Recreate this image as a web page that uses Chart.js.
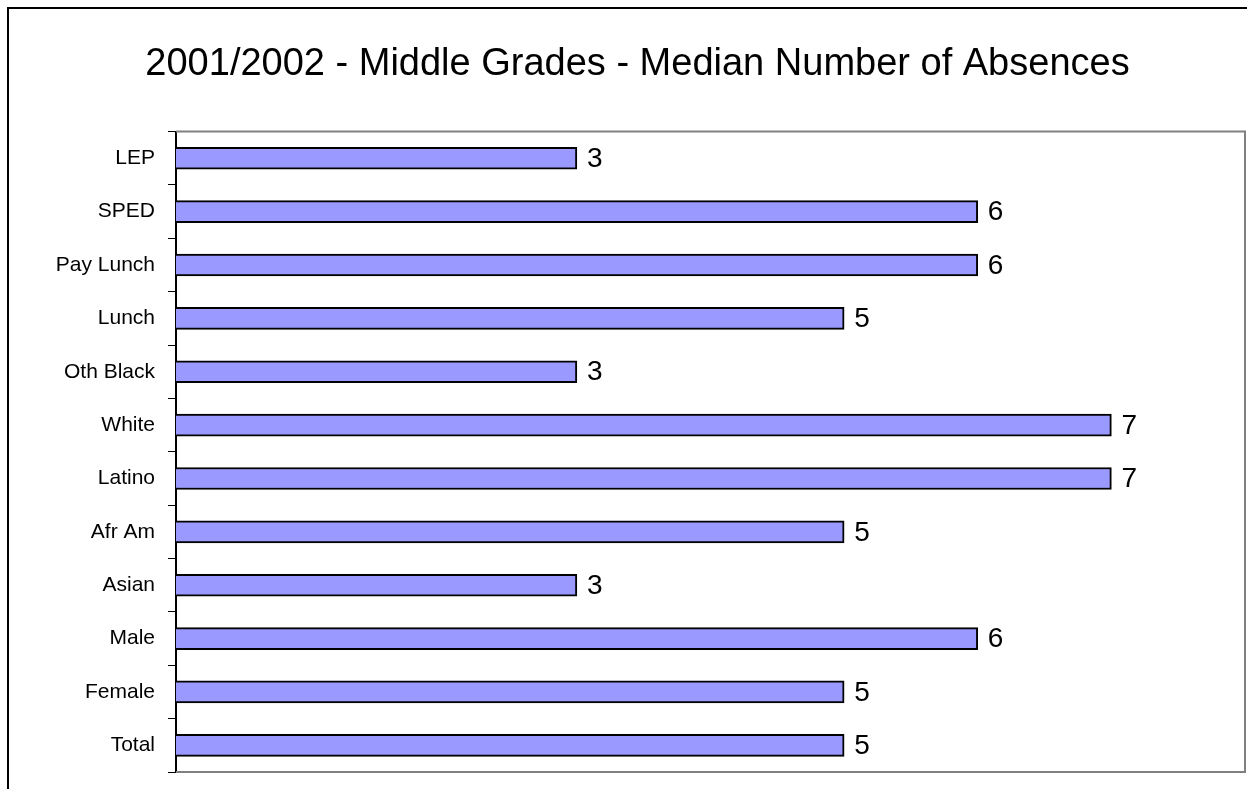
<!DOCTYPE html>
<html>
<head>
<meta charset="utf-8">
<script src="https://cdn.jsdelivr.net/npm/chart.js@4/dist/chart.umd.min.js"></script>
<style>
  html, body { margin: 0; padding: 0; background: #fff; }
  #wrap { width: 1247px; height: 789px; }
</style>
</head>
<body>
<div id="wrap"><canvas id="chart"></canvas></div>
<script>
const categories = ['LEP', 'SPED', 'Pay Lunch', 'Lunch', 'Oth Black', 'White', 'Latino', 'Afr Am', 'Asian', 'Male', 'Female', 'Total'];
const medianAbsences = [3, 6, 6, 5, 3, 7, 7, 5, 3, 6, 5, 5];
const chartTitle = '2001/2002 - Middle Grades - Median Number of Absences';

const FONT = '"Liberation Sans", Arial, sans-serif';

// outer frame + grey plot frame, like the old excel look
const frames = {
  id: 'frames',
  beforeDraw(chart) {
    const c = chart.ctx;
    c.save();
    c.strokeStyle = '#000';
    c.lineWidth = 2;
    c.beginPath();
    c.moveTo(8, 789);
    c.lineTo(8, 8);
    c.lineTo(1247, 8);
    c.stroke();
    c.restore();
  },
  afterDraw(chart) {
    const a = chart.chartArea;
    const c = chart.ctx;
    c.save();
    c.strokeStyle = '#808080';
    c.lineWidth = 2;
    c.beginPath();
    c.moveTo(a.left, a.top);
    c.lineTo(a.right, a.top);
    c.lineTo(a.right, a.bottom);
    c.lineTo(a.left, a.bottom);
    c.stroke();
    c.restore();
  }
};

const valueLabels = {
  id: 'valueLabels',
  afterDatasetsDraw(chart) {
    const c = chart.ctx;
    const meta = chart.getDatasetMeta(0);
    c.save();
    c.fillStyle = '#000';
    c.font = '28px ' + FONT;
    c.textAlign = 'left';
    c.textBaseline = 'middle';
    meta.data.forEach((bar, i) => {
      c.fillText(medianAbsences[i], bar.x + 10, bar.y + 1);
    });
    c.restore();
  }
};

new Chart(document.getElementById('chart'), {
  type: 'bar',
  data: {
    labels: categories,
    datasets: [{
      data: medianAbsences,
      backgroundColor: '#9999FF',
      borderColor: '#000',
      borderWidth: 2,
      barThickness: 22
    }]
  },
  options: {
    indexAxis: 'y',
    responsive: true,
    maintainAspectRatio: false,
    animation: false,
    layout: { padding: { left: 30, right: 2, top: 8, bottom: 17 } },
    plugins: {
      legend: { display: false },
      tooltip: { enabled: false },
      title: {
        display: true,
        text: chartTitle,
        color: '#000',
        font: { family: FONT, size: 38, weight: 'normal' },
        padding: { top: 34, bottom: 44 }
      }
    },
    scales: {
      x: {
        display: false,
        min: 0,
        max: 8
      },
      y: {
        afterFit(scale) {
          scale.width = 146;
          scale.paddingTop = 0;
          scale.paddingBottom = 0;
        },
        grid: {
          offset: true,
          drawOnChartArea: false,
          color: '#000',
          tickLength: 8
        },
        border: { color: '#000', width: 2 },
        ticks: {
          color: '#000',
          padding: 13,
          font: { family: FONT, size: 21 }
        }
      }
    }
  },
  plugins: [frames, valueLabels]
});
</script>
</body>
</html>
